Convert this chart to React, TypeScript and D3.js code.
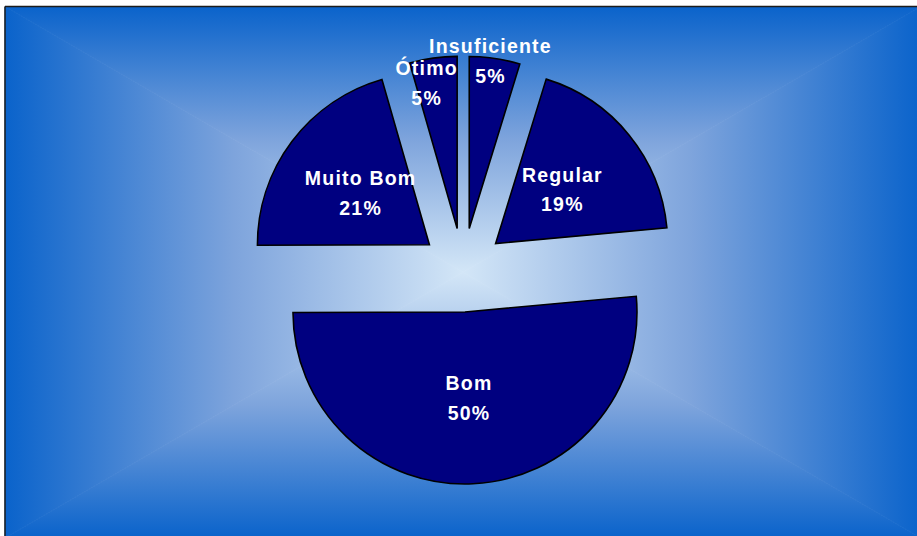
import React from "react";
import * as d3 from "d3";

// ---- data ----
const categories = ["Insuficiente", "Regular", "Bom", "Muito Bom", "Ótimo"];
const shares = [4.75, 18.8, 51.4, 20.6, 4.45];
const percentLabels = ["5%", "19%", "50%", "21%", "5%"];

// ---- layout ----
const W = 917;
const H = 536;
const frame = { left: 5, top: 6.5, right: 921, bottom: 538 };
const center = { x: 463, y: 270 };
const radius = 172;
const explode = 42;
const labelRadiusFactor: Record<string, number> = { Insuficiente: 0.985, "Ótimo": 0.855 };
const labelNudgeX: Record<string, number> = { Insuficiente: -4, "Ótimo": -10 };
const lineGap = 29.5;
const fontSize = 19.5;

const edgeColor = "#0a63cb";
const midColor = "#7ea4dc";
const centerColor = "#d3e6f7";

export default function App() {
  const pie = d3
    .pie<number>()
    .sort(null)
    .startAngle(0)
    .endAngle(2 * Math.PI)
    .value((d) => d)(shares);
  const arc = d3.arc<any>().innerRadius(0).outerRadius(radius);

  const gcx = (frame.left + frame.right) / 2;
  const gcy = (frame.top + frame.bottom) / 2;

  const tris = [
    { id: "gTop", pts: [[frame.left, frame.top], [frame.right, frame.top], [gcx, gcy]], x1: gcx, y1: frame.top, x2: gcx, y2: gcy },
    { id: "gBottom", pts: [[frame.left, frame.bottom], [frame.right, frame.bottom], [gcx, gcy]], x1: gcx, y1: frame.bottom, x2: gcx, y2: gcy },
    { id: "gLeft", pts: [[frame.left, frame.top], [frame.left, frame.bottom], [gcx, gcy]], x1: frame.left, y1: gcy, x2: gcx, y2: gcy },
    { id: "gRight", pts: [[frame.right, frame.top], [frame.right, frame.bottom], [gcx, gcy]], x1: frame.right, y1: gcy, x2: gcx, y2: gcy },
  ];

  return (
    <svg
      width={W}
      height={H}
      style={{ position: "absolute", left: 0, top: 0, background: "#ffffff" }}
      fontFamily="'Liberation Sans', Arial, Helvetica, sans-serif"
    >
      <defs>
        {tris.map((t) => (
          <linearGradient key={t.id} id={t.id} gradientUnits="userSpaceOnUse" x1={t.x1} y1={t.y1} x2={t.x2} y2={t.y2}>
            <stop offset="0" stopColor={edgeColor} />
            <stop offset="0.5" stopColor={midColor} />
            <stop offset="1" stopColor={centerColor} />
          </linearGradient>
        ))}
      </defs>
      {tris.map((t) => (
        <polygon
          key={t.id}
          points={t.pts.map((p) => p.join(",")).join(" ")}
          fill={`url(#${t.id})`}
          stroke={`url(#${t.id})`}
          strokeWidth={0.8}
        />
      ))}
      {/* frame edges (top & left visible) */}
      <line x1={frame.left} y1={frame.top} x2={W} y2={frame.top} stroke="#1c1c1c" strokeWidth={1.5} />
      <line x1={frame.left} y1={frame.top} x2={frame.left} y2={H} stroke="#1c1c1c" strokeWidth={1.5} />

      {pie.map((p, i) => {
        const mid = (p.startAngle + p.endAngle) / 2;
        const ux = Math.sin(mid);
        const uy = -Math.cos(mid);
        const ax = center.x + ux * explode;
        const ay = center.y + uy * explode;
        const name = categories[i];
        const lr = radius * (labelRadiusFactor[name] ?? 0.5);
        const lx = ax + ux * lr + (labelNudgeX[name] ?? 0);
        const ly = ay + uy * lr;
        return (
          <g key={name}>
            <path
              d={arc(p) as string}
              transform={`translate(${ax},${ay})`}
              fill="#000080"
              stroke="#000000"
              strokeWidth={1.6}
              strokeLinejoin="miter"
            />
            <text
              x={lx}
              y={ly - 7.75}
              textAnchor="middle"
              fill="#ffffff"
              fontWeight="bold"
              fontSize={fontSize}
              letterSpacing={1.2}
            >
              {name}
            </text>
            <text
              x={lx}
              y={ly - 7.75 + lineGap}
              textAnchor="middle"
              fill="#ffffff"
              fontWeight="bold"
              fontSize={fontSize}
              letterSpacing={1.2}
            >
              {percentLabels[i]}
            </text>
          </g>
        );
      })}
    </svg>
  );
}
